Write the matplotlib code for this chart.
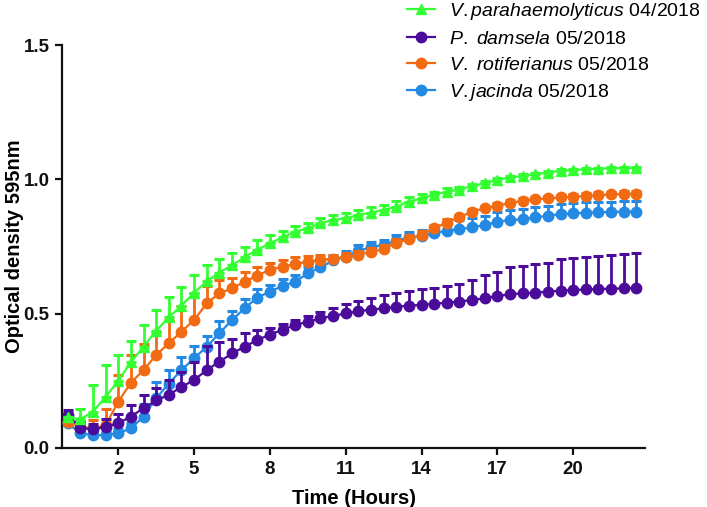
import numpy as np
import matplotlib
matplotlib.use("Agg")
import matplotlib.pyplot as plt
from matplotlib.lines import Line2D

plt.rcParams['font.family'] = ['Liberation Sans', 'DejaVu Sans']
plt.rcParams['mathtext.fontset'] = 'custom'
plt.rcParams['mathtext.it'] = 'Liberation Sans:italic'
plt.rcParams['mathtext.rm'] = 'Liberation Sans'

# sampling times (hours)
hours = [0.0, 0.5, 1.0, 1.5, 2.0, 2.5, 3.0, 3.5, 4.0, 4.5, 5.0, 5.5, 6.0, 6.5, 7.0, 7.5,
         8.0, 8.5, 9.0, 9.5, 10.0, 10.5, 11.0, 11.5, 12.0, 12.5, 13.0, 13.5, 14.0, 14.5,
         15.0, 15.5, 16.0, 16.5, 17.0, 17.5, 18.0, 18.5, 19.0, 19.5, 20.0, 20.5, 21.0,
         21.5, 22.0, 22.5]

vpara = [0.114, 0.107, 0.135, 0.19, 0.25, 0.32, 0.377, 0.437, 0.486, 0.53, 0.578, 0.62,
         0.653, 0.68, 0.71, 0.738, 0.762, 0.784, 0.805, 0.818, 0.836, 0.849, 0.855, 0.867,
         0.876, 0.886, 0.898, 0.917, 0.929, 0.942, 0.954, 0.962, 0.975, 0.985, 0.998, 1.007,
         1.012, 1.02, 1.025, 1.032, 1.035, 1.037, 1.04, 1.041, 1.042, 1.043]
vpara_err = [0.0, 0.04, 0.1, 0.12, 0.095, 0.08, 0.08, 0.075, 0.075, 0.068, 0.066, 0.06, 0.05,
             0.045, 0.04, 0.035, 0.03, 0.025, 0.02, 0.02, 0.02, 0.018, 0.018, 0.018, 0.02, 0.02,
             0.02, 0.018, 0.015, 0.012, 0.012, 0.01, 0.008, 0.008, 0.008, 0.006, 0.006, 0.005,
             0.005, 0.005, 0.005, 0.004, 0.004, 0.004, 0.004, 0.004]

pdam = [0.123, 0.075, 0.07, 0.079, 0.092, 0.117, 0.148, 0.177, 0.198, 0.227, 0.253, 0.29,
        0.321, 0.352, 0.377, 0.402, 0.422, 0.44, 0.458, 0.47, 0.483, 0.491, 0.501, 0.509,
        0.515, 0.52, 0.526, 0.53, 0.533, 0.537, 0.541, 0.545, 0.551, 0.557, 0.566, 0.572,
        0.576, 0.578, 0.582, 0.586, 0.588, 0.59, 0.592, 0.593, 0.594, 0.596]
pdam_err = [0.02, 0.022, 0.02, 0.028, 0.033, 0.043, 0.05, 0.048, 0.055, 0.055, 0.068, 0.09,
            0.074, 0.052, 0.05, 0.037, 0.025, 0.02, 0.02, 0.02, 0.025, 0.03, 0.035, 0.04,
            0.042, 0.048, 0.05, 0.055, 0.06, 0.06, 0.062, 0.065, 0.074, 0.087, 0.09, 0.1,
            0.1, 0.107, 0.108, 0.116, 0.118, 0.12, 0.122, 0.125, 0.127, 0.128]

vrot = [0.098, 0.079, 0.073, 0.085, 0.172, 0.243, 0.29, 0.346, 0.39, 0.433, 0.476, 0.538,
        0.576, 0.594, 0.619, 0.642, 0.663, 0.675, 0.685, 0.694, 0.70, 0.705, 0.712, 0.718,
        0.731, 0.739, 0.764, 0.777, 0.793, 0.818, 0.839, 0.859, 0.88, 0.892, 0.901, 0.912,
        0.92, 0.926, 0.929, 0.933, 0.935, 0.938, 0.941, 0.944, 0.945, 0.947]
vrot_err = [0.02, 0.02, 0.03, 0.06, 0.1, 0.105, 0.097, 0.087, 0.087, 0.095, 0.1, 0.065, 0.05,
            0.04, 0.035, 0.03, 0.025, 0.025, 0.025, 0.02, 0.02, 0.015, 0.015, 0.015, 0.015,
            0.015, 0.015, 0.015, 0.015, 0.012, 0.012, 0.01, 0.01, 0.01, 0.01, 0.01, 0.01,
            0.01, 0.01, 0.01, 0.01, 0.01, 0.01, 0.01, 0.01, 0.01]

vjac = [0.092, 0.055, 0.048, 0.048, 0.055, 0.073, 0.117, 0.185, 0.24, 0.29, 0.334, 0.377,
        0.427, 0.476, 0.52, 0.56, 0.582, 0.603, 0.619, 0.65, 0.672, 0.698, 0.712, 0.734,
        0.747, 0.756, 0.772, 0.784, 0.789, 0.80, 0.809, 0.814, 0.821, 0.83, 0.842, 0.849,
        0.851, 0.859, 0.864, 0.871, 0.873, 0.876, 0.877, 0.879, 0.88, 0.88]
vjac_err = [0.02, 0.012, 0.01, 0.01, 0.015, 0.02, 0.045, 0.06, 0.05, 0.05, 0.045, 0.04, 0.045,
            0.035, 0.035, 0.03, 0.025, 0.025, 0.025, 0.025, 0.025, 0.02, 0.02, 0.02, 0.02,
            0.02, 0.02, 0.02, 0.022, 0.025, 0.028, 0.035, 0.035, 0.035, 0.037, 0.037, 0.037,
            0.037, 0.038, 0.038, 0.038, 0.038, 0.038, 0.038, 0.038, 0.038]

labels = [r"$\it{V.parahaemolyticus}$ 04/2018",
          r"$\it{P.\ damsela}$ 05/2018",
          r"$\it{V.\ rotiferianus}$ 05/2018",
          r"$\it{V.jacinda}$ 05/2018"]
colors = ['#33ff33', '#4b0c9b', '#f26b12', '#2389e3']
markers = ['^', 'o', 'o', 'o']
series = [vpara, pdam, vrot, vjac]
errs = [vpara_err, pdam_err, vrot_err, vjac_err]

fig = plt.figure(figsize=(7.07, 5.07), dpi=100)
ax = fig.add_axes([62 / 707, 1 - 448 / 507, (645 - 62) / 707, (448 - 45) / 507])

x = np.array(hours)
# draw blue first so green ends on top
for k in [3, 2, 1, 0]:
    y = np.array(series[k])
    e = np.array(errs[k])
    ax.errorbar(x, y, yerr=[np.zeros_like(e), e], color=colors[k], marker=markers[k],
                markersize=7.5, markeredgecolor=colors[k], lw=1.6, elinewidth=2.0,
                capsize=3.8, capthick=2.2, zorder=3 + (3 - k), clip_on=False)

ax.set_xlim(-0.225, 22.84)
ax.set_ylim(0, 1.5)
ax.set_xticks([2, 5, 8, 11, 14, 17, 20])
ax.set_yticks([0.0, 0.5, 1.0, 1.5])
ax.set_yticklabels(['0.0', '0.5', '1.0', '1.5'])
for lab in ax.get_xticklabels() + ax.get_yticklabels():
    lab.set_fontweight('bold')
    lab.set_fontsize(13.5)
ax.tick_params(direction='out', length=5, width=1.6, colors='#111111', pad=4)
for s in ['top', 'right']:
    ax.spines[s].set_visible(False)
for s in ['left', 'bottom']:
    ax.spines[s].set_linewidth(1.6)
    ax.spines[s].set_color('#111111')

ax.set_xlabel('Time (Hours)', fontsize=14.5, fontweight='bold', labelpad=8)
ax.set_ylabel('Optical density 595nm', fontsize=14.5, fontweight='bold')
ax.yaxis.set_label_coords(-(62 - 24) / 583, 0.5)

# legend shows line + marker only
leg_handles = [Line2D([0], [0], color=colors[k], marker=markers[k], markersize=7.5, lw=1.6)
               for k in range(4)]
fig.legend(leg_handles, labels, loc='upper left',
           bbox_to_anchor=(407 / 707, 1 - 1 / 507), frameon=False, fontsize=14,
           borderpad=0, borderaxespad=0, handlelength=1.45, handletextpad=0.7,
           labelspacing=0.42)

fig.savefig('out.png', dpi=100)
